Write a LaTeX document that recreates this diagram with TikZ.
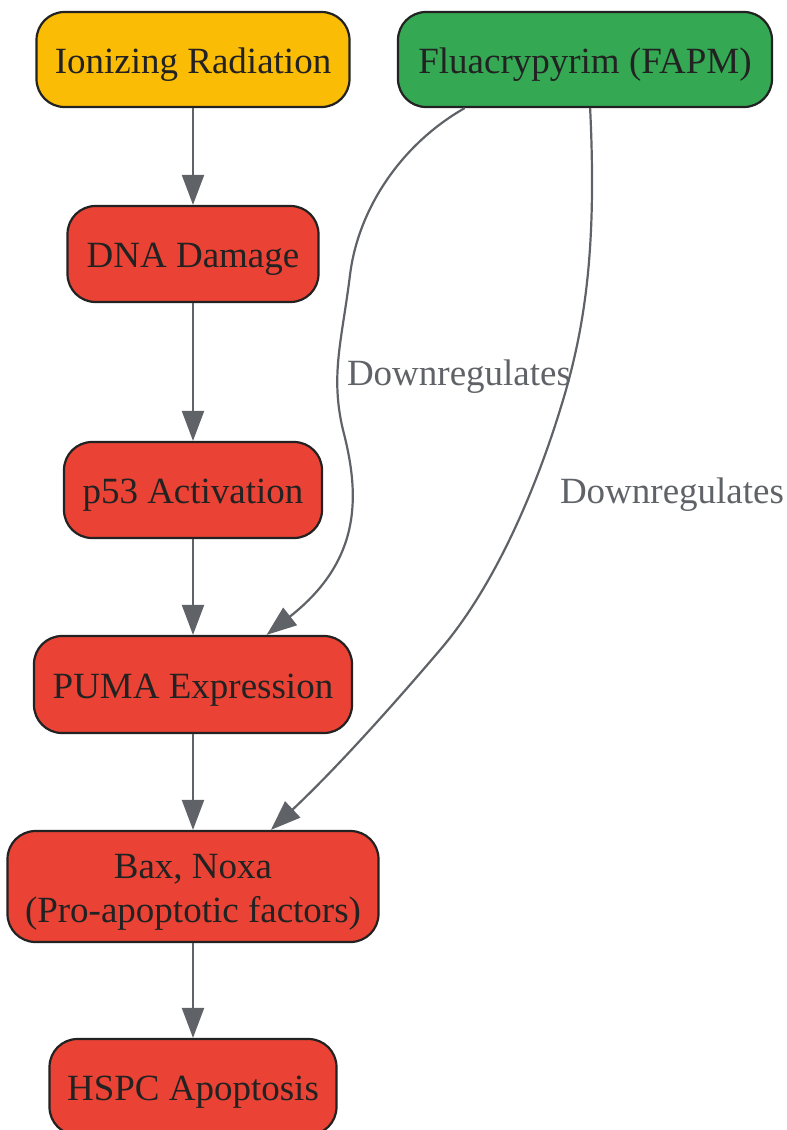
\documentclass[tikz,border=0pt]{standalone}
\usepackage{fontspec}
\setmainfont{Liberation Serif}
\usetikzlibrary{arrows.meta}
\definecolor{cyellow}{HTML}{FBBC05}
\definecolor{cgreen}{HTML}{34A853}
\definecolor{cred}{HTML}{EA4335}
\definecolor{cedge}{HTML}{5F6368}
\definecolor{cborder}{HTML}{222222}
\definecolor{ctext}{HTML}{222222}
\newcommand\twolines[2]{\vtop{\halign{\hfil##\hfil\cr #1\cr #2\cr}}}
\tikzset{
  box/.style={draw=cborder, line width=2.2pt, rounded corners=28pt, inner sep=0pt,
    text=ctext, font=\fontsize{37}{44}\selectfont, text height=30pt, text depth=3pt},
  edge/.style={draw=cedge, line width=2.2pt, -{Triangle[length=30pt,width=22pt]}},
  elabel/.style={text=cedge, font=\fontsize{37}{44}\selectfont, inner sep=0pt, anchor=base}
}
\begin{document}
\begin{tikzpicture}[x=1pt,y=-1pt]
\useasboundingbox (0,0) rectangle (787,1130);
\node[box, fill=cyellow, minimum width=313pt, minimum height=95pt] (ion) at (193,59.5) {Ionizing Radiation};
\node[box, fill=cgreen, minimum width=374pt, minimum height=95pt] (fapm) at (585,59.5) {Fluacrypyrim (FAPM)};
\node[box, fill=cred, minimum width=251pt, minimum height=96pt] (dna) at (193,254) {DNA Damage};
\node[box, fill=cred, minimum width=258pt, minimum height=96pt] (p53) at (193,490) {p53 Activation};
\node[box, fill=cred, minimum width=318pt, minimum height=97pt] (puma) at (193,684.5) {PUMA Expression};
\node[box, fill=cred, minimum width=371pt, minimum height=111pt, text height=0pt, text depth=17pt] (bax) at (193,886.5) {\twolines{Bax, Noxa}{(Pro-apoptotic factors)}};
\node[box, fill=cred, minimum width=287pt, minimum height=96pt] (hspc) at (193,1087) {HSPC Apoptosis};

\draw[edge] (ion) -- (dna);
\draw[edge] (dna) -- (p53);
\draw[edge] (p53) -- (puma);
\draw[edge] (puma) -- (bax);
\draw[edge] (bax) -- (hspc);

\draw[edge] (fapm.202) .. controls (400,145) and (358,210) .. (350,275)
  .. controls (342,340) and (330,375) .. (343,430)
  .. controls (360,495) and (362,560) .. (puma.34);
\draw[edge] (fapm.276) .. controls (597,250) and (585,330) .. (560,410)
  .. controls (540,475) and (500,580) .. (440,650)
  .. controls (400,697) and (340,765) .. (bax.36);

\node[elabel] (l1) at (459,385) {Downregulates};
\node[elabel] (l2) at (672,503) {Downregulates};
\end{tikzpicture}
\end{document}
